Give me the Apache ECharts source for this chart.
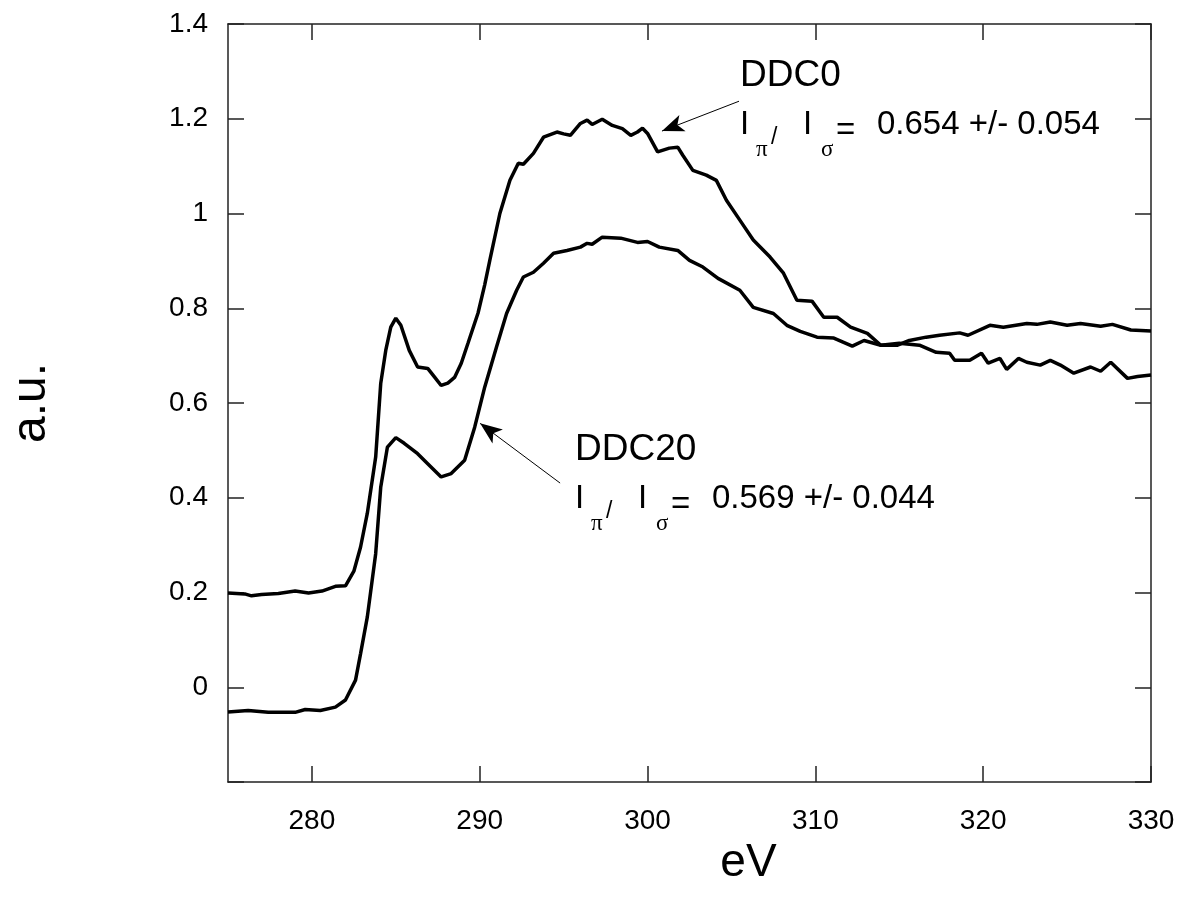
<!DOCTYPE html>
<html>
<head>
<meta charset="utf-8">
<script src="https://cdn.jsdelivr.net/npm/echarts@6/dist/echarts.min.js"></script>
<style>
html,body{margin:0;padding:0;background:#fff;}
#chart{width:1186px;height:910px;}
</style>
</head>
<body>
<div id="chart"></div>
<script>
// ---- data ----
const xTicks = [280, 290, 300, 310, 320, 330];

const ddc0Energy = [275.0,276.0,276.4,277.0,278.0,279.0,279.8,280.6,281.4,282.0,282.5,282.9,283.3,283.8,284.1,284.4,284.7,285.0,285.3,285.8,286.3,286.9,287.3,287.7,288.1,288.5,288.9,289.3,289.9,290.3,290.6,291.2,291.8,292.3,292.6,293.2,293.8,294.6,295.0,295.4,296.0,296.4,296.7,297.3,297.9,298.5,299.0,299.4,299.7,300.0,300.6,301.3,301.8,302.1,302.7,303.5,304.1,304.7,305.5,306.3,307.3,308.1,308.9,309.8,310.5,311.3,312.1,313.1,313.9,315.0,316.2,317.2,318.0,318.3,319.2,319.9,320.3,321.0,321.4,322.1,322.6,323.4,324.0,324.6,325.4,326.4,327.0,327.6,328.6,329.2,330.0];
const ddc0Values = [0.199,0.197,0.193,0.196,0.198,0.203,0.199,0.203,0.213,0.214,0.245,0.296,0.367,0.486,0.641,0.711,0.760,0.779,0.764,0.711,0.676,0.673,0.655,0.637,0.642,0.654,0.684,0.726,0.790,0.850,0.901,1.000,1.070,1.106,1.104,1.127,1.161,1.172,1.168,1.165,1.190,1.197,1.188,1.199,1.186,1.179,1.165,1.172,1.180,1.169,1.130,1.138,1.140,1.123,1.091,1.081,1.070,1.028,0.986,0.944,0.908,0.874,0.817,0.815,0.781,0.781,0.760,0.747,0.722,0.726,0.722,0.707,0.705,0.690,0.690,0.705,0.684,0.694,0.671,0.694,0.686,0.680,0.690,0.680,0.663,0.676,0.667,0.686,0.652,0.656,0.659];

const ddc20Energy = [275.0,276.2,277.4,279.0,279.6,280.5,281.4,282.0,282.6,282.9,283.3,283.8,284.1,284.5,285.0,285.5,286.3,286.9,287.7,288.3,289.1,289.7,290.3,291.0,291.6,292.2,292.6,293.2,293.8,294.4,295.2,296.0,296.4,296.7,297.3,298.4,299.4,300.0,300.7,301.8,302.5,303.3,304.2,305.5,306.3,307.5,308.3,309.1,310.1,311.1,312.2,312.9,313.9,314.9,315.6,316.6,317.4,318.6,319.1,320.4,321.2,322.6,323.2,324.0,325.0,325.8,327.0,327.7,328.8,330.0];
const ddc20Values = [-0.052,-0.049,-0.053,-0.053,-0.047,-0.049,-0.042,-0.027,0.015,0.071,0.148,0.282,0.422,0.507,0.527,0.515,0.493,0.472,0.444,0.451,0.479,0.549,0.634,0.718,0.789,0.838,0.866,0.876,0.895,0.916,0.922,0.929,0.937,0.935,0.950,0.948,0.939,0.941,0.929,0.922,0.901,0.887,0.863,0.838,0.802,0.789,0.764,0.751,0.739,0.737,0.720,0.732,0.722,0.722,0.732,0.739,0.743,0.748,0.743,0.764,0.760,0.768,0.766,0.771,0.764,0.768,0.762,0.766,0.754,0.752];

// arrows: [tailX, tailY, tipX, tipY] in data units
const ddc0Arrow = [305.45, 1.237, 300.86, 1.174];
const ddc20Arrow = [294.79, 0.431, 290.02, 0.557];

const ddc0Label = { name: 'DDC0', ratio: '0.654 +/- 0.054' };
const ddc20Label = { name: 'DDC20', ratio: '0.569 +/- 0.044' };

// ---- build ----
const zip = (xs, ys) => xs.map((x, i) => [x, ys[i]]);
const FONT = '"Liberation Sans", Arial, sans-serif';
const SERIF = '"Liberation Serif", "Times New Roman", serif';
const AX = '#222';
const TICK_FS = 28;

function arrowLine(a) {
  return {
    silent: true,
    symbol: ['none', 'arrow'],
    symbolSize: [13, 22],
    label: { show: false },
    lineStyle: { color: '#000', width: 1, type: 'solid' },
    emphasis: { disabled: true },
    data: [[{ coord: [a[0], a[1]] }, { coord: [a[2], a[3]] }]]
  };
}

function annotation(lbl, x, y) {
  // x: left of the text block, y: vertical centre of the name line
  const y2 = y + 49;
  const mk = (text, dx, cy, size, family) => ({
    type: 'text', silent: true, x: x + dx, y: cy,
    style: { text: text, fill: '#000', fontSize: size, fontFamily: family, verticalAlign: 'middle', align: 'left' }
  });
  return [
    mk(lbl.name, 0, y, 37, FONT),
    mk('I', 0, y2, 33, FONT),
    mk('\u03C0', 16, y2 + 25, 23, SERIF),
    mk('/', 31, y2 + 13, 23, FONT),
    mk('I', 63, y2, 33, FONT),
    mk('\u03C3', 81, y2 + 25, 23, SERIF),
    mk('=', 96, y2 + 6, 33, FONT),
    mk(lbl.ratio, 137, y2, 33, FONT)
  ];
}

const chart = echarts.init(document.getElementById('chart'), null, { renderer: 'canvas' });

const baseX = {
  type: 'value', min: 275, max: 330,
  axisLine: { show: true, onZero: false, lineStyle: { color: AX, width: 1.5 } },
  axisTick: { show: true, inside: true, length: 16, customValues: xTicks, lineStyle: { color: AX, width: 1.5 } },
  splitLine: { show: false }
};
const baseY = {
  type: 'value', min: -0.2, max: 1.4, interval: 0.2,
  axisLine: { show: true, onZero: false, lineStyle: { color: AX, width: 1.5 } },
  axisTick: { show: true, inside: true, length: 16, lineStyle: { color: AX, width: 1.5 } },
  splitLine: { show: false }
};

chart.setOption({
  animation: false,
  backgroundColor: '#fff',
  grid: { left: 228, top: 24, right: 35, bottom: 128, containLabel: false },
  xAxis: [
    Object.assign({}, baseX, {
      position: 'bottom',
      name: 'eV', nameLocation: 'middle', nameGap: 50,
      nameTextStyle: { fontSize: 46, fontFamily: FONT, color: '#000', padding: [0, 0, 0, 118] },
      axisLabel: { show: true, customValues: xTicks, fontSize: TICK_FS, fontFamily: FONT, color: '#000', margin: 25 }
    }),
    Object.assign({}, baseX, { position: 'top', axisLabel: { show: false } })
  ],
  yAxis: [
    Object.assign({}, baseY, {
      position: 'left',
      name: 'a.u.', nameLocation: 'middle', nameGap: 172, nameRotate: 90,
      nameTextStyle: { fontSize: 48, fontFamily: FONT, color: '#000' },
      axisLabel: {
        show: true, fontSize: TICK_FS, fontFamily: FONT, color: '#000', margin: 20,
        formatter: v => (v < -0.1 ? '' : String(Math.round(v * 10) / 10))
      }
    }),
    Object.assign({}, baseY, { position: 'right', axisLabel: { show: false } })
  ],
  series: [
    {
      name: 'DDC0', type: 'line', xAxisIndex: 0, yAxisIndex: 0,
      data: zip(ddc0Energy, ddc0Values), showSymbol: false, symbol: 'none',
      lineStyle: { color: '#000', width: 3.5 }, itemStyle: { color: '#000' },
      markLine: arrowLine(ddc0Arrow)
    },
    {
      name: 'DDC20', type: 'line', xAxisIndex: 0, yAxisIndex: 0,
      data: zip(ddc20Energy, ddc20Values), showSymbol: false, symbol: 'none',
      lineStyle: { color: '#000', width: 3.5 }, itemStyle: { color: '#000' },
      markLine: arrowLine(ddc20Arrow)
    }
  ],
  graphic: annotation(ddc0Label, 740, 76).concat(annotation(ddc20Label, 575, 450))
});
</script>
</body>
</html>
